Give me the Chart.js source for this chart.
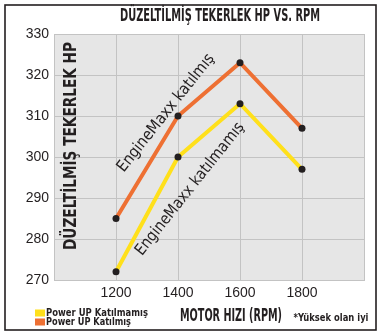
<!DOCTYPE html>
<html>
<head>
<meta charset="utf-8">
<script src="https://cdn.jsdelivr.net/npm/chart.js@4.4.0/dist/chart.umd.min.js"></script>
<style>
  html, body { margin: 0; padding: 0; background: #fff; }
  #wrap { width: 382px; height: 334px; position: relative; }
</style>
</head>
<body>
<div id="wrap"><canvas id="hp" width="382" height="334"></canvas></div>
<script>
// values
const rpm = [1200, 1400, 1600, 1800];
const hpWith = [285, 310, 323, 307];     // Power UP Katılmış
const hpWithout = [272, 300, 313, 297];  // Power UP Katılmamış
const seriesNames = ['Power UP Katılmamış', 'Power UP Katılmış'];
const yTicks = [270, 280, 290, 300, 310, 320, 330];

const narrow = '"Liberation Sans Narrow", "DejaVu Sans Condensed", sans-serif';
const ink = '#231f20';

function fitText(ctx, text, cx, cy, w, font, angle) {
  ctx.save();
  ctx.font = font;
  const m = ctx.measureText(text).width;
  ctx.translate(cx, cy);
  if (angle) ctx.rotate(angle * Math.PI / 180);
  ctx.scale(w / m, 1);
  ctx.textAlign = 'center';
  ctx.textBaseline = 'middle';
  ctx.fillText(text, 0, 0);
  ctx.restore();
}

const decor = {
  id: 'decor',
  beforeDraw(chart) {
    const { ctx, chartArea: a } = chart;
    ctx.save();
    ctx.fillStyle = '#e6e6e6';
    ctx.fillRect(a.left, a.top, a.right - a.left, a.bottom - a.top);
    ctx.restore();
  },
  afterDatasetsDraw(chart) {
    const ctx = chart.ctx;
    ctx.save();
    ctx.fillStyle = ink;
    // y title inside the plot
    fitText(ctx, 'DÜZELTİLMİŞ TEKERLEK HP', 72, 146, 208, 'bold 17px ' + narrow, -90);
    // line labels
    fitText(ctx, 'EngineMaxx katılmış', 166, 113, 146, '16px ' + narrow, -51.5);
    fitText(ctx, 'EngineMaxx katılmamış', 190, 189, 165, '16px ' + narrow, -51.5);
    ctx.restore();
  },
  afterDraw(chart) {
    const ctx = chart.ctx;
    ctx.save();
    ctx.fillStyle = ink;
    fitText(ctx, 'DÜZELTİLMİŞ TEKERLEK HP VS. RPM', 220, 17, 200, 'bold 17px ' + narrow);
    fitText(ctx, 'MOTOR HIZI (RPM)', 231, 317, 102, 'bold 17px ' + narrow);
    fitText(ctx, '*Yüksek olan iyi', 331, 318, 75, 'bold 11px ' + narrow);
    // legend
    const ds = chart.data.datasets;
    [0, 1].forEach(i => {
      const y = 313 + i * 9;
      ctx.fillStyle = ds[i].borderColor;
      ctx.fillRect(35, y - 3.5, 10, 7);
      ctx.fillStyle = ink;
      fitText(ctx, ds[i].label, 46 + (i ? 85 : 102) / 2, y, i ? 85 : 102, 'bold 11px ' + narrow);
    });
    // outer frame
    ctx.strokeStyle = ink;
    ctx.lineWidth = 1.6;
    ctx.strokeRect(5, 5, 371, 325);
    ctx.restore();
  }
};

new Chart(document.getElementById('hp'), {
  type: 'line',
  data: {
    datasets: [{
      label: seriesNames[0],
      data: rpm.map((x, i) => ({ x, y: hpWithout[i] })),
      borderColor: '#ffe01b',
      borderWidth: 4,
      pointRadius: 3.5,
      pointBackgroundColor: ink,
      pointBorderWidth: 0
    }, {
      label: seriesNames[1],
      data: rpm.map((x, i) => ({ x, y: hpWith[i] })),
      borderColor: '#ee7033',
      borderWidth: 4,
      pointRadius: 3.5,
      pointBackgroundColor: ink,
      pointBorderWidth: 0
    }]
  },
  options: {
    responsive: false,
    animation: false,
    layout: { padding: { left: 0, right: 18, top: 34, bottom: 0 } },
    plugins: { legend: { display: false }, tooltip: { enabled: false } },
    scales: {
      x: {
        type: 'linear',
        min: 1000,
        max: 2000,
        afterFit: s => { s.height = 54; },
        grid: { color: '#c3c3c3', drawTicks: false },
        border: { color: '#c3c3c3' },
        ticks: {
          stepSize: 200,
          padding: 5,
          color: ink,
          font: { family: '"Liberation Sans", Arial, sans-serif', size: 14 },
          callback: v => rpm.includes(v) ? String(v) : ''
        }
      },
      y: {
        min: yTicks[0],
        max: yTicks[yTicks.length - 1],
        afterFit: s => { s.width = 54; },
        afterBuildTicks: s => { s.ticks = yTicks.map(v => ({ value: v })); },
        grid: { color: '#c3c3c3', drawTicks: false },
        border: { color: '#c3c3c3' },
        ticks: {
          padding: 5,
          color: ink,
          font: { family: '"Liberation Sans", Arial, sans-serif', size: 14 }
        }
      }
    }
  },
  plugins: [decor]
});
</script>
</body>
</html>
